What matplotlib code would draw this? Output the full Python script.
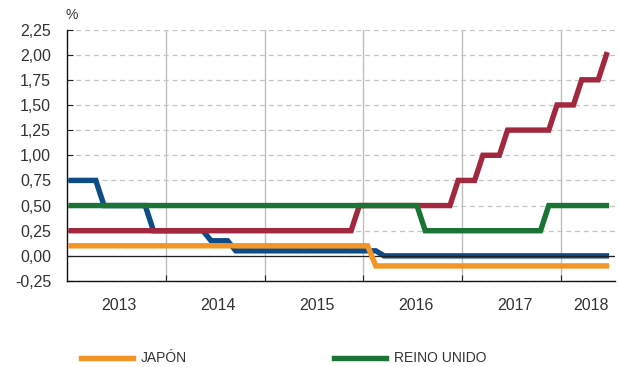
import matplotlib
matplotlib.use("Agg")
import matplotlib.pyplot as plt
from matplotlib.lines import Line2D
from matplotlib.ticker import FixedLocator, FuncFormatter, NullFormatter

# Monthly policy rates (%), January 2013 - June 2018
eurozone = (
    [0.75] * 4 + [0.50] * 6 + [0.25] * 2            # 2013
    + [0.25] * 5 + [0.15] * 3 + [0.05] * 4          # 2014
    + [0.05] * 12                                   # 2015
    + [0.05] * 2 + [0.00] * 10                      # 2016
    + [0.00] * 12                                   # 2017
    + [0.00] * 6                                    # 2018
)
united_states = (
    [0.25] * 12                                     # 2013
    + [0.25] * 12                                   # 2014
    + [0.25] * 11 + [0.50]                          # 2015
    + [0.50] * 11 + [0.75]                          # 2016
    + [0.75] * 2 + [1.00] * 3 + [1.25] * 6 + [1.50] # 2017
    + [1.50] * 2 + [1.75] * 3 + [2.00]              # 2018
)
japan = (
    [0.10] * 12 + [0.10] * 12 + [0.10] * 12         # 2013-2015
    + [0.10] + [-0.10] * 11                         # 2016
    + [-0.10] * 12                                  # 2017
    + [-0.10] * 6                                   # 2018
)
united_kingdom = (
    [0.50] * 12 + [0.50] * 12 + [0.50] * 12         # 2013-2015
    + [0.50] * 7 + [0.25] * 5                       # 2016
    + [0.25] * 10 + [0.50] * 2                      # 2017
    + [0.50] * 6                                    # 2018
)

series_labels = ["ZONA DEL EURO", "ESTADOS UNIDOS", "JAPÓN", "REINO UNIDO"]
year_labels = ["2013", "2014", "2015", "2016", "2017", "2018"]
y_ticks = [-0.25, 0.0, 0.25, 0.5, 0.75, 1.0, 1.25, 1.5, 1.75, 2.0, 2.25]

first_year = 2013
months = [first_year + (i + 0.5) / 12 for i in range(len(eurozone))]

c_blue = "#0d4c86"
c_red = "#a1283f"
c_orange = "#f39427"
c_green = "#1c7336"
text_col = "#333333"

plt.rcParams["font.family"] = ["Liberation Sans", "DejaVu Sans"]

fig = plt.figure(figsize=(6.19, 3.67), dpi=100)
ax = fig.add_axes([0.1082, 0.2343, 0.8853, 0.6853])

lw = 3.9
ax.plot(months, eurozone, color=c_blue, lw=lw, zorder=3, solid_joinstyle="miter")
ax.axhline(0, color="#222222", lw=0.9, zorder=3.5)
ax.plot(months, japan, color=c_orange, lw=lw, zorder=4, solid_joinstyle="miter")
ax.plot(months, united_states, color=c_red, lw=lw, zorder=5, solid_joinstyle="miter")
ax.plot(months, united_kingdom, color=c_green, lw=lw, zorder=6, solid_joinstyle="miter")

ax.set_xlim(2013, 2018.545)
ax.set_ylim(-0.25, 2.25)

# Year boundaries: tick marks + solid grid; labels centred in each year
ax.xaxis.set_major_locator(FixedLocator([2014, 2015, 2016, 2017, 2018]))
ax.xaxis.set_major_formatter(NullFormatter())
centers = [2013.53, 2014.53, 2015.53, 2016.53, 2017.53, 2018.30]
ax.set_xticks(centers, year_labels, minor=True)
ax.tick_params(axis="x", which="major", direction="in", length=4, width=0.8, color="#222222")
ax.tick_params(axis="x", which="minor", length=0, pad=12, labelsize=11.5, labelcolor=text_col)
ax.grid(axis="x", which="major", color="#bdbdbd", lw=1.0, ls="-", zorder=1)

ax.set_yticks(y_ticks)
ax.yaxis.set_major_formatter(FuncFormatter(lambda v, p: f"{v:.2f}".replace(".", ",")))
ax.tick_params(axis="y", direction="in", length=4, width=0.8, color="#222222",
               labelsize=11.5, labelcolor=text_col, pad=11.5)
ax.grid(axis="y", color="#c4c4c4", lw=0.9, ls=(0, (4, 3)), zorder=1)

for side in ("top", "right"):
    ax.spines[side].set_visible(False)
for side in ("left", "bottom"):
    ax.spines[side].set_color("#111111")
    ax.spines[side].set_linewidth(1.0)

fig.text(72 / 619, 1 - 15 / 367, "%", fontsize=10, color=text_col, ha="center", va="center")

# Legend row
legend_items = [(c_orange, series_labels[2], 81), (c_green, series_labels[3], 334)]
ly = 1 - 358 / 367
for col, lab, x0 in legend_items:
    fig.add_artist(Line2D([x0 / 619, (x0 + 52) / 619], [ly, ly], color=col, lw=lw,
                          transform=fig.transFigure))
    fig.text((x0 + 60) / 619, ly, lab, fontsize=10, color=text_col, ha="left", va="center")

fig.savefig("out.png", dpi=100)
